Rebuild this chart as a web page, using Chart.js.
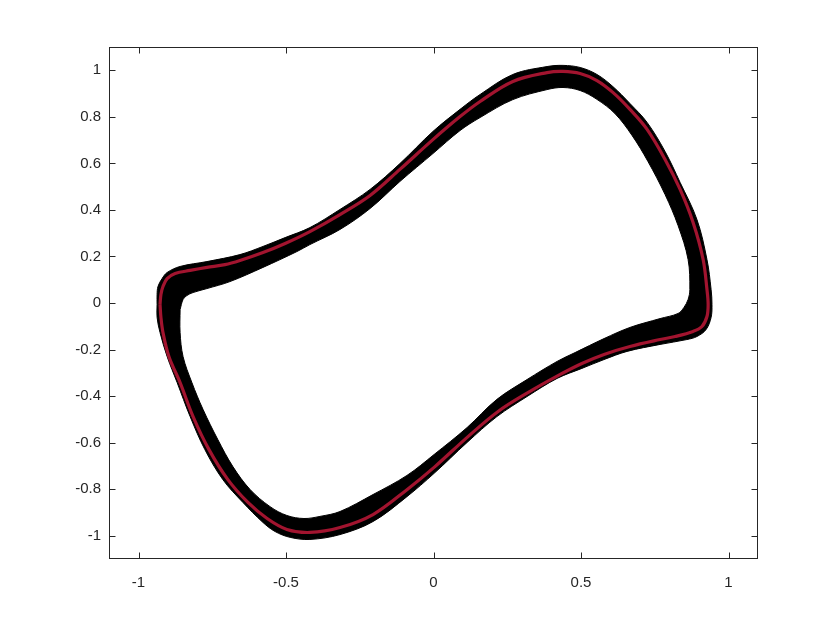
<!DOCTYPE html>
<html>
<head>
<meta charset="utf-8">
<script src="https://cdn.jsdelivr.net/npm/chart.js@4/dist/chart.umd.min.js"></script>
<style>
html,body{margin:0;padding:0;background:#fff;}
canvas{display:block;}
</style>
</head>
<body>
<canvas id="c" width="840" height="630"></canvas>
<script>
// Tick values
const xTicks = [-1, -0.5, 0, 0.5, 1];
const xTickLabels = ['-1', '-0.5', '0', '0.5', '1'];
const yTicks = [-1, -0.8, -0.6, -0.4, -0.2, 0, 0.2, 0.4, 0.6, 0.8, 1];
const yTickLabels = ['-1', '-0.8', '-0.6', '-0.4', '-0.2', '0', '0.2', '0.4', '0.6', '0.8', '1'];

// Limit cycle (red curve)
const cycleX = [-0.927,-0.924,-0.917,-0.903,-0.876,-0.825,-0.768,-0.707,-0.656,-0.578,-0.503,-0.419,-0.317,-0.215,-0.114,-0.002,0.090,0.158,0.269,0.385,0.439,0.497,0.554,0.608,0.666,0.724,0.785,0.836,0.880,0.914,0.927,0.931,0.927,0.910,0.880,0.819,0.768,0.666,0.578,0.503,0.422,0.320,0.219,0.117,0.005,-0.090,-0.205,-0.317,-0.419,-0.497,-0.564,-0.629,-0.697,-0.761,-0.815,-0.859,-0.897,-0.917,-0.924,-0.927];
const cycleY = [-0.006,0.037,0.071,0.105,0.127,0.140,0.153,0.165,0.183,0.217,0.256,0.307,0.380,0.462,0.574,0.702,0.801,0.866,0.952,0.990,0.995,0.986,0.956,0.905,0.832,0.746,0.617,0.488,0.346,0.187,0.058,-0.006,-0.058,-0.101,-0.122,-0.144,-0.157,-0.187,-0.221,-0.260,-0.312,-0.385,-0.466,-0.574,-0.703,-0.802,-0.909,-0.965,-0.986,-0.973,-0.926,-0.857,-0.759,-0.630,-0.488,-0.342,-0.230,-0.127,-0.062,-0.006];

// Outer edge of the black trajectory band
const outerX = [-0.937,-0.937,-0.934,-0.920,-0.903,-0.859,-0.768,-0.656,-0.578,-0.503,-0.419,-0.317,-0.215,-0.114,-0.002,0.090,0.158,0.269,0.385,0.439,0.497,0.554,0.608,0.666,0.724,0.785,0.836,0.893,0.927,0.941,0.944,0.941,0.924,0.893,0.859,0.768,0.656,0.578,0.503,0.419,0.317,0.215,0.114,0.002,-0.090,-0.205,-0.317,-0.419,-0.486,-0.537,-0.578,-0.646,-0.714,-0.775,-0.825,-0.869,-0.903,-0.927,-0.937,-0.937];
const outerY = [-0.006,0.037,0.071,0.105,0.131,0.157,0.178,0.208,0.243,0.281,0.324,0.402,0.488,0.599,0.737,0.832,0.896,0.982,1.016,1.021,1.012,0.982,0.930,0.857,0.776,0.651,0.518,0.359,0.187,0.058,-0.006,-0.062,-0.114,-0.144,-0.157,-0.178,-0.208,-0.243,-0.281,-0.324,-0.402,-0.488,-0.599,-0.732,-0.832,-0.939,-0.995,-1.016,-1.007,-0.982,-0.943,-0.857,-0.759,-0.630,-0.488,-0.342,-0.230,-0.127,-0.062,-0.006];

// Inner edge of the black trajectory band
const innerX = [-0.859,-0.849,-0.836,-0.815,-0.768,-0.690,-0.578,-0.463,-0.419,-0.317,-0.215,-0.114,-0.002,0.090,0.158,0.269,0.385,0.439,0.497,0.554,0.615,0.673,0.727,0.785,0.829,0.863,0.869,0.863,0.849,0.829,0.768,0.666,0.578,0.480,0.419,0.317,0.215,0.114,0.002,-0.090,-0.205,-0.317,-0.385,-0.439,-0.497,-0.554,-0.622,-0.680,-0.731,-0.781,-0.819,-0.849,-0.859,-0.859];
const innerY = [-0.028,0.015,0.032,0.045,0.062,0.092,0.153,0.221,0.251,0.316,0.406,0.522,0.642,0.741,0.797,0.874,0.917,0.926,0.913,0.875,0.814,0.720,0.608,0.466,0.333,0.187,0.058,0.015,-0.019,-0.045,-0.067,-0.105,-0.153,-0.213,-0.251,-0.329,-0.414,-0.535,-0.651,-0.741,-0.823,-0.896,-0.917,-0.926,-0.913,-0.875,-0.801,-0.703,-0.587,-0.458,-0.342,-0.230,-0.127,-0.028];

const toPts = (xs, ys) => xs.map((x, i) => ({x: x, y: ys[i]}));

const AXIS_COLOR = '#262626';
const RED = '#A2142F';
const FONT = { family: '"Liberation Sans", Arial, Helvetica, sans-serif', size: 15 };

const bandPlugin = {
  id: 'band',
  beforeDatasetsDraw(chart) {
    const ctx = chart.ctx;
    const area = chart.chartArea;
    // axes box and inward ticks (MATLAB style)
    ctx.save();
    ctx.strokeStyle = AXIS_COLOR;
    ctx.lineWidth = 1;
    ctx.strokeRect(Math.round(area.left) + 0.5, Math.round(area.top) + 0.5,
                   Math.round(area.right - area.left) - 1, Math.round(area.bottom - area.top) - 1);
    const tl = 6.5;
    ctx.beginPath();
    xTicks.forEach(v => {
      const px = Math.round(chart.scales.x.getPixelForValue(v)) + 0.5;
      ctx.moveTo(px, area.bottom); ctx.lineTo(px, area.bottom - tl);
      ctx.moveTo(px, area.top); ctx.lineTo(px, area.top + tl);
    });
    yTicks.forEach(v => {
      const py = Math.round(chart.scales.y.getPixelForValue(v)) + 0.5;
      ctx.moveTo(area.left, py); ctx.lineTo(area.left + tl, py);
      ctx.moveTo(area.right, py); ctx.lineTo(area.right - tl, py);
    });
    ctx.stroke();
    ctx.restore();

    // filled band between outer and inner edges
    const outer = chart.getDatasetMeta(1).dataset;
    const inner = chart.getDatasetMeta(2).dataset;
    outer.updateControlPoints(area, 'x');
    inner.updateControlPoints(area, 'x');
    ctx.save();
    ctx.beginPath();
    outer.path(ctx);
    ctx.closePath();
    inner.path(ctx);
    ctx.closePath();
    ctx.fillStyle = '#000000';
    ctx.fill('evenodd');
    ctx.restore();
  }
};

new Chart(document.getElementById('c'), {
  type: 'scatter',
  data: {
    datasets: [
      { label: 'cycle', data: toPts(cycleX, cycleY), showLine: true, borderColor: RED, borderWidth: 3.2, pointRadius: 0, tension: 0.35, fill: false },
      { label: 'outer', data: toPts(outerX, outerY), showLine: true, borderColor: '#000', borderWidth: 1, pointRadius: 0, tension: 0.35, fill: false },
      { label: 'inner', data: toPts(innerX, innerY), showLine: true, borderColor: '#000', borderWidth: 1, pointRadius: 0, tension: 0.35, fill: false }
    ]
  },
  options: {
    responsive: false,
    animation: false,
    events: [],
    layout: { padding: { left: 0, top: 47, right: 82, bottom: 0 } },
    plugins: { legend: { display: false }, tooltip: { enabled: false } },
    scales: {
      x: {
        type: 'linear', min: -1.1, max: 1.1,
        afterBuildTicks: s => { s.ticks = xTicks.map(v => ({value: v})); },
        afterFit: s => { s.height = 71; },
        grid: { display: false, drawTicks: false },
        border: { display: false },
        ticks: {
          padding: 15, color: AXIS_COLOR, maxRotation: 0, font: FONT,
          callback: (v) => { const i = xTicks.findIndex(t => Math.abs(t - v) < 1e-9); return i >= 0 ? xTickLabels[i] : ''; }
        }
      },
      y: {
        type: 'linear', min: -1.1, max: 1.1,
        afterBuildTicks: s => { s.ticks = yTicks.map(v => ({value: v})); },
        afterFit: s => { s.width = 109; },
        grid: { display: false, drawTicks: false },
        border: { display: false },
        ticks: {
          padding: 8, color: AXIS_COLOR, font: FONT,
          callback: (v) => { const i = yTicks.findIndex(t => Math.abs(t - v) < 1e-9); return i >= 0 ? yTickLabels[i] : ''; }
        }
      }
    }
  },
  plugins: [bandPlugin]
});
</script>
</body>
</html>
